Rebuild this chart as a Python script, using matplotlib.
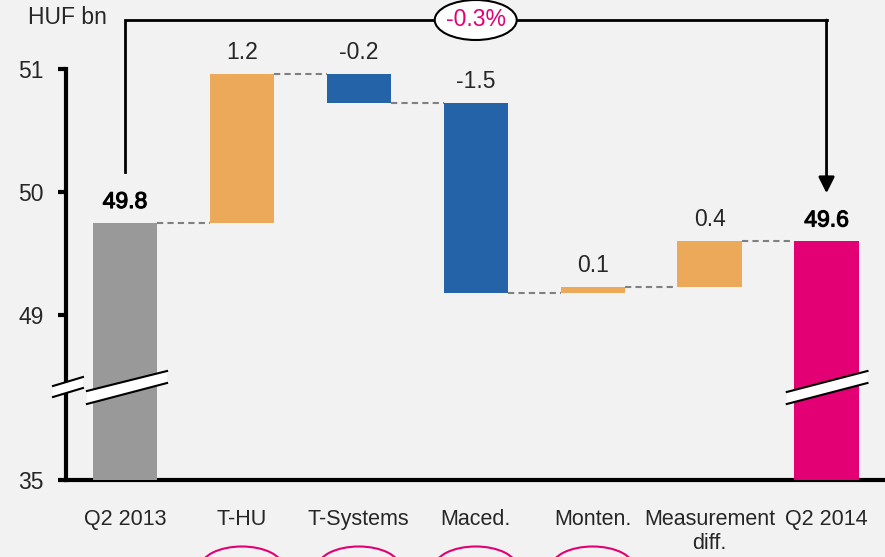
import numpy as np
import matplotlib
matplotlib.use("Agg")
import matplotlib.pyplot as plt
from matplotlib.patches import Polygon, Ellipse
from matplotlib.transforms import blended_transform_factory
import matplotlib.patheffects as pe

plt.rcParams['font.family'] = ['Liberation Sans', 'DejaVu Sans']

# ---- data ----
categories = ["Q2 2013", "T-HU", "T-Systems", "Maced.", "Monten.", "Measurement\ndiff.", "Q2 2014"]
start_value = 49.75
deltas = [1.21, -0.235, -1.545, 0.05, 0.375]
end_value = 49.60
value_labels = ["49.8", "1.2", "-0.2", "-1.5", "0.1", "0.4", "49.6"]
change_label = "-0.3%"
y_ticks = [35, 49, 50, 51]
y_ticklabels = ["35", "49", "50", "51"]
unit_label = "HUF bn"

# ---- colours ----
BG = "#F2F2F2"
GRAY = "#999999"
ORANGE = "#ECA95A"
BLUE = "#2563A8"
MAGENTA = "#E20074"
TXT = "#262626"
FS_CAT = 15.5
FS = 16.5

# broken axis scale: linear above 49, compressed below
K = (165 / 123) / 14.0
def fwd(v):
    v = np.asarray(v, dtype=float)
    return np.where(v >= 49, v, 49 - (49 - v) * K)
def inv(u):
    u = np.asarray(u, dtype=float)
    return np.where(u >= 49, u, 49 - (49 - u) / K)

fig = plt.figure(figsize=(8.85, 5.57), dpi=100, facecolor=BG)
ax = fig.add_axes([66 / 885, (557 - 480) / 557, 1 - 66 / 885, 480 / 557])
ax.set_facecolor(BG)
ax.set_yscale('function', functions=(fwd, inv))
ax.set_ylim(35, 51 + 69 / 123)
ax.set_xlim(-0.504, 6.5)

x = np.arange(len(categories))
w = 0.55

# bars
ax.bar(x[0], start_value - 35, bottom=35, width=w, color=GRAY, zorder=3)
level = start_value
levels = [start_value]
tops = [start_value]
for i, d in enumerate(deltas, start=1):
    lo, hi = min(level, level + d), max(level, level + d)
    ax.bar(x[i], hi - lo, bottom=lo, width=w, color=ORANGE if d > 0 else BLUE, zorder=3)
    tops.append(hi)
    level += d
    levels.append(level)
ax.bar(x[-1], end_value - 35, bottom=35, width=w, color=MAGENTA, zorder=3)
tops.append(end_value)

# connectors
for i in range(len(categories) - 1):
    y = levels[i]
    ax.plot([x[i] + w / 2, x[i + 1] - w / 2], [y, y], ls=(0, (3, 2)), color="#808080", lw=1.5, zorder=2)

# value labels
for i, (t, lab) in enumerate(zip(tops, value_labels)):
    strong = i in (0, len(categories) - 1)
    t_ = ax.annotate(lab, (x[i], t), xytext=(0, 7), textcoords='offset points',
                     ha='center', va='bottom', fontsize=FS,
                     color='black' if strong else TXT, annotation_clip=False)
    if strong:
        t_.set_path_effects([pe.withStroke(linewidth=0.8, foreground='black')])

# bracket with arrow
top_y = 51 + (69 - 20) / 123
ax.plot([x[0], x[0], x[-1]], [start_value + 0.41, top_y, top_y], color='black', lw=2,
        clip_on=False, zorder=4, solid_joinstyle='miter')
ax.annotate('', xy=(x[-1], end_value + 0.39), xytext=(x[-1], top_y),
            arrowprops=dict(arrowstyle='-|>', color='black', lw=2, mutation_scale=24,
                            shrinkA=0, shrinkB=0), annotation_clip=False, zorder=4)
ax.add_patch(Ellipse((3.0, top_y), width=82 / 117, height=40 / 123, fc='white', ec='black',
                     lw=1.5, zorder=5, clip_on=False))
ax.text(3.0, top_y, change_label, ha='center', va='center', fontsize=FS, color=MAGENTA,
        zorder=6, clip_on=False)

# axes styling
for s in ['top', 'right']:
    ax.spines[s].set_visible(False)
ax.spines['left'].set_linewidth(3)
ax.spines['left'].set_bounds(35, 51)
ax.spines['bottom'].set_linewidth(3)
ax.set_yticks(y_ticks)
ax.set_yticklabels(y_ticklabels)
ax.tick_params(axis='y', length=6, width=3, pad=10, labelsize=FS, labelcolor=TXT)
ax.set_xticks(x)
ax.set_xticklabels(categories, linespacing=1.2)
ax.tick_params(axis='x', length=0, pad=21, labelsize=FS_CAT, labelcolor=TXT)

# unit label
fig.text(67 / 885, 1 - 18 / 557, unit_label, ha='center', va='center', fontsize=FS, color=TXT)

# break marks (x in data, y in axes fraction)
bt = blended_transform_factory(ax.transData, ax.transAxes)
def frac(py):
    return (480 - py) / 480
def brk(xl, xr, ytl, ytr, ybl, ybr):
    poly = Polygon([(xl, frac(ytl)), (xr, frac(ytr)), (xr, frac(ybr)), (xl, frac(ybl))],
                   closed=True, fc='white', ec='none', transform=bt, zorder=7, clip_on=False)
    ax.add_patch(poly)
    ax.plot([xl, xr], [frac(ytl), frac(ytr)], color='black', lw=1.5, transform=bt, zorder=8, clip_on=False)
    ax.plot([xl, xr], [frac(ybl), frac(ybr)], color='black', lw=1.5, transform=bt, zorder=8, clip_on=False)

brk(-0.615, -0.359, 386, 377, 397, 388)
brk(x[0] - 0.325, x[0] + 0.36, 391, 371, 404, 383)
brk(x[-1] - 0.34, x[-1] + 0.35, 392, 371, 404, 383)

# partially visible magenta ellipses at bottom
bf = blended_transform_factory(ax.transData, fig.transFigure)
for xc in x[1:5]:
    e = Ellipse((xc, (557 - 567) / 557), width=82 / 117, height=41 / 557, fc='none',
                ec=MAGENTA, lw=1.5, transform=bf, clip_on=False)
    fig.add_artist(e)

fig.savefig("out.png", dpi=100, facecolor=BG)
